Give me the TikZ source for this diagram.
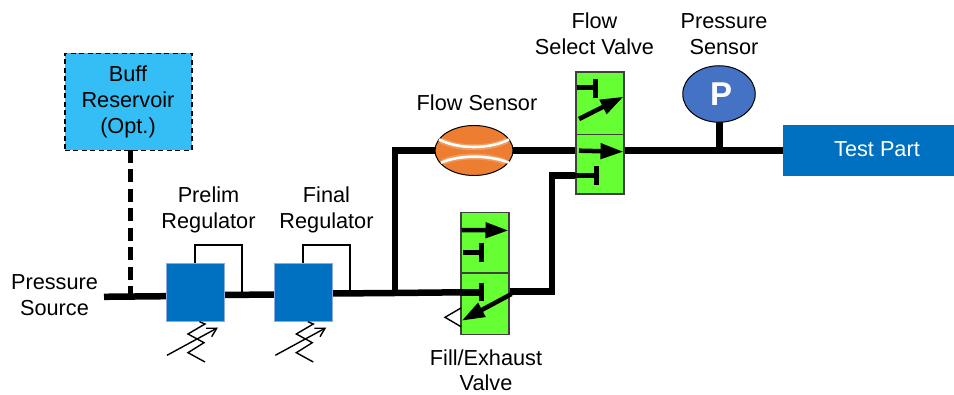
\documentclass[tikz,border=0pt]{standalone}
\usepackage{fontspec}
\setmainfont{Liberation Sans}
\usetikzlibrary{arrows.meta,shapes.geometric}
\definecolor{buffblue}{HTML}{35BEF5}
\definecolor{regblue}{HTML}{0070C0}
\definecolor{regedge}{HTML}{8FAADC}
\definecolor{valvegreen}{HTML}{66FF33}
\definecolor{sensororange}{HTML}{ED7D31}
\definecolor{sensorlight}{HTML}{F29A5C}
\definecolor{pblue}{HTML}{4472C4}
\tikzset{
  lbl/.style={align=center,inner sep=0pt,font=\fontsize{21.7}{26}\selectfont},
  pipe/.style={line width=6.5pt,line cap=butt,line join=miter},
  feedback/.style={line width=1.3pt,line join=miter},
  regbox/.style={fill=regblue,draw=regedge,line width=0.7pt,minimum width=58pt,minimum height=57.5pt,inner sep=0pt,outer sep=0pt},
  valvebox/.style={fill=valvegreen,draw=black!75,line width=1.2pt,minimum width=48pt,inner sep=0pt,outer sep=0pt},
  tline/.style={line width=4.5pt},
  flowarrow/.style={line width=4.5pt,-{Triangle[length=23pt,width=15pt]}},
  thinline/.style={line width=1.4pt,line join=miter}
}
\begin{document}
\begin{tikzpicture}[x=1pt,y=-1pt]
\useasboundingbox (0,0) rectangle (954,395);
% named points
\coordinate (src) at (104,296.8);
\coordinate (tee) at (395,293);
\coordinate (cornerA) at (395,150.5);
\coordinate (cornerB) at (552,291.5);
\coordinate (cornerC) at (552,175.5);
\coordinate (buffjoin) at (130,296);
\coordinate (pjoin) at (719.5,150.5);
\coordinate (fillT) at (481.7,292.3);
\coordinate (selT) at (596.5,175.5);
\coordinate (fb1a) at (195,245);
\coordinate (fb1b) at (242,245);
\coordinate (fb1c) at (242,293);
\coordinate (fb2a) at (303,245);
\coordinate (fb2b) at (350,245);
\coordinate (fb2c) at (350,292);
% pipes under the blocks
\draw[pipe] (src) -- (166,296.2) -- (224,295) -- (275,294.5) -- (332,293.5) -- (tee) -- (461,292.3) -- (fillT);
\draw[pipe] (395,296) -- (cornerA) -- (576,150.5) -- (783,150.5);
\draw[pipe] (509,291.5) -- (cornerB) -- (cornerC) -- (selT);
\draw[pipe] (pjoin) -- (719.5,120);
\draw[line width=5pt,dash pattern=on 13pt off 6.5pt] (130,150) -- (buffjoin);
\draw[feedback] (195,264) -- (fb1a) -- (fb1b) -- (fb1c);
\draw[feedback] (303,264) -- (fb2a) -- (fb2b) -- (fb2c);
% blocks
\node[fill=buffblue,draw=black,dash pattern=on 5pt off 3.5pt,line width=1.4pt,minimum width=127pt,minimum height=97pt,inner sep=0pt,outer sep=0pt] (buff) at (128.3,102) {};
\node[lbl] (bufftext) at (128,102) {Buff\\Reservoir\\(Opt.)};
\node[regbox] (reg1) at (195,292.5) {};
\node[regbox] (reg2) at (303.5,292.5) {};
\node[fill=regblue,minimum width=171pt,minimum height=51pt,inner sep=0pt,outer sep=0pt,anchor=west] (part) at (783,150.5) {};
\node[lbl,text=white] (parttext) at (877,149) {Test Part};
\node[ellipse,fill=sensororange,draw=black,line width=1pt,minimum width=78pt,minimum height=50pt,inner sep=0pt,outer sep=0pt] (flow) at (474,150.5) {};
\draw[sensorlight,line width=6pt] (441,140.5) .. controls (459,149.5) and (489,149.5) .. (507,140.5);
\draw[sensorlight,line width=6pt] (443,162) .. controls (459,154.7) and (489,154.7) .. (505,162);
\draw[white,line width=2.6pt] (439,139.5) .. controls (459,149.5) and (489,149.5) .. (509,139.5);
\draw[white,line width=2.6pt] (441,162.7) .. controls (459,154.7) and (489,154.7) .. (509,162.7);
\node[ellipse,fill=pblue,draw=black,line width=1pt,minimum width=72.5pt,minimum height=56.5pt,inner sep=0pt,outer sep=0pt] (psens) at (719,94) {};
\node[text=white,inner sep=0pt,font=\fontsize{33}{33}\selectfont\bfseries] (ptext) at (721,94) {P};
% fill / exhaust valve
\node[valvebox,minimum height=60.5pt] (fillU) at (485,243) {};
\node[valvebox,minimum height=61.5pt] (fillL) at (485,303.7) {};
\draw[thinline] (461,308) -- (445,317.3) -- (461,326.7);
\draw[flowarrow] (461.7,230) -- (508.5,230.5);
\draw[tline] (463,252.7) -- (481.7,252.7);
\draw[tline] (481.7,243.5) -- (481.7,262);
\draw[pipe] (460,292.3) -- (fillT);
\draw[tline] (481.7,283) -- (481.7,301.5);
\draw[flowarrow] (511.5,294) -- (461.7,320.7);
% flow select valve
\node[valvebox,minimum height=62.3pt] (selU) at (600,103.2) {};
\node[valvebox,minimum height=59.7pt] (selL) at (600,164.2) {};
\draw[tline] (576.5,87.7) -- (596,87.7);
\draw[tline] (595.7,78.7) -- (595.7,97.7);
\draw[flowarrow] (579,119) -- (623.5,96.7);
\draw[flowarrow] (579,150.7) -- (623.5,151.7);
\draw[line width=5pt] (560,175.5) -- (selT);
\draw[tline] (596.5,166.5) -- (596.5,185.5);
% adjusters
\foreach \dx/\nm in {0/a,108.3/b}{
  \begin{scope}[xshift=\dx pt]
    \draw[thinline] (199.5,321.7) -- (205,324) -- (188,334) -- (204,342.7) -- (188,352.7) -- (205,362);
    \coordinate (adj\nm s) at (167,355.3);
    \coordinate (adj\nm e) at (216.7,328.3);
    \draw[thinline] (adj\nm s) -- (adj\nm e);
    \draw[thinline] (206,328.3) -- (adj\nm e) -- (211.7,336.7);
  \end{scope}
}
% labels
\node[lbl] (lflowsel) at (594.5,34) {Flow\\Select Valve};
\node[lbl] (lpress) at (724,34) {Pressure\\Sensor};
\node[lbl] (lflow) at (477,103) {Flow Sensor};
\node[lbl] (lprelim) at (208.5,209.5) {Prelim\\Regulator};
\node[lbl] (lfinal) at (326.5,209.5) {Final\\Regulator};
\node[lbl] (lsrc) at (54.5,295) {Pressure\\Source};
\node[lbl,font=\fontsize{21.7}{24.5}\selectfont] (lfill) at (486,370) {Fill/Exhaust\\Valve};
\end{tikzpicture}
\end{document}
